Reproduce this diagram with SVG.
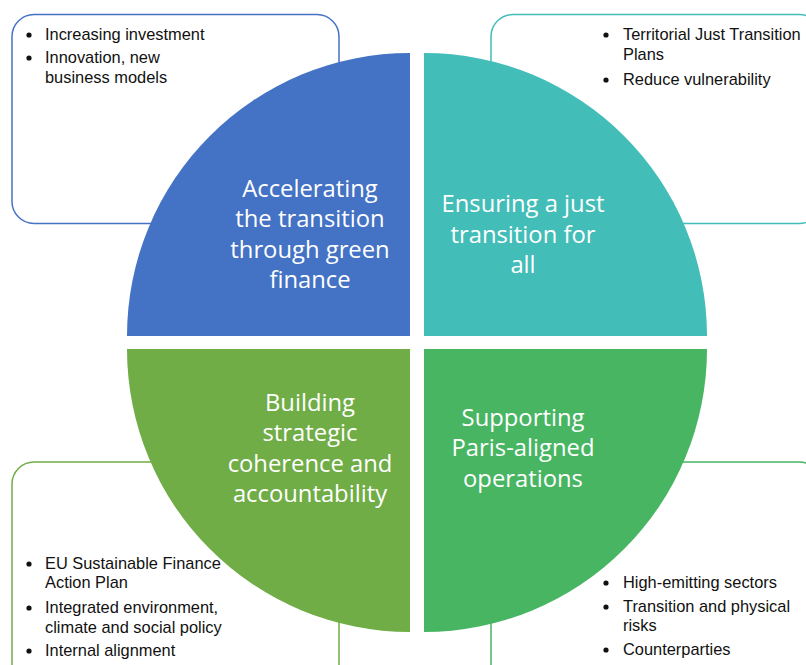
<svg xmlns="http://www.w3.org/2000/svg" width="806" height="665" viewBox="0 0 806 665">
<style>
.box{fill:#ffffff;stroke-width:1.5}
.lbl{font-family:"Open Sans","Liberation Sans",sans-serif;font-size:23.8px;fill:#ffffff;text-anchor:middle}
.bul{font-family:"Liberation Sans",Arial,sans-serif;font-size:16.4px;fill:#111111}
.dot{fill:#111111}
</style>
<defs><circle id="d" r="2.6" class="dot"/></defs>
<rect width="806" height="665" fill="#ffffff"/>
<g id="box-tl"><rect class="box" x="12" y="14.5" width="327" height="209" rx="22" stroke="#4472C4"/>
<use href="#d" x="29" y="35"/><use href="#d" x="29" y="58"/>
<text class="bul" x="45" y="40">Increasing investment</text>
<text class="bul" x="45" y="63">Innovation, new</text>
<text class="bul" x="45" y="83">business models</text></g>
<g id="box-tr"><rect class="box" x="491" y="14.5" width="330" height="209" rx="22" stroke="#43BDB8"/>
<use href="#d" x="606" y="35"/><use href="#d" x="606" y="80"/>
<text class="bul" x="623" y="40">Territorial Just Transition</text>
<text class="bul" x="623" y="60">Plans</text>
<text class="bul" x="623" y="85">Reduce vulnerability</text></g>
<g id="box-bl"><rect class="box" x="12" y="462" width="327" height="230" rx="22" stroke="#70AD47"/>
<use href="#d" x="29" y="564"/><use href="#d" x="29" y="608"/><use href="#d" x="29" y="651"/>
<text class="bul" x="45" y="569">EU Sustainable Finance</text>
<text class="bul" x="45" y="588">Action Plan</text>
<text class="bul" x="45" y="613">Integrated environment,</text>
<text class="bul" x="45" y="633">climate and social policy</text>
<text class="bul" x="45" y="656">Internal alignment</text></g>
<g id="box-br"><rect class="box" x="491" y="462" width="330" height="230" rx="22" stroke="#48B463"/>
<use href="#d" x="606" y="583"/><use href="#d" x="606" y="607"/><use href="#d" x="606" y="650"/>
<text class="bul" x="623" y="588">High-emitting sectors</text>
<text class="bul" x="623" y="612">Transition and physical</text>
<text class="bul" x="623" y="631">risks</text>
<text class="bul" x="623" y="655">Counterparties</text></g>
<g id="q-tl"><path d="M410,336 L127,336 A283,283 0 0 1 410,53 Z" fill="#4472C4"/>
<text class="lbl"><tspan x="310" y="197">Accelerating</tspan><tspan x="310" y="227">the transition</tspan><tspan x="310" y="258">through green</tspan><tspan x="310" y="288">finance</tspan></text></g>
<g id="q-tr"><path d="M424,336 L424,53 A283,283 0 0 1 707,336 Z" fill="#43BDB8"/>
<text class="lbl"><tspan x="523" y="212">Ensuring a just</tspan><tspan x="523" y="243">transition for</tspan><tspan x="523" y="273">all</tspan></text></g>
<g id="q-bl"><path d="M410,349 L410,632 A283,283 0 0 1 127,349 Z" fill="#70AD47"/>
<text class="lbl"><tspan x="310" y="411">Building</tspan><tspan x="310" y="441">strategic</tspan><tspan x="310" y="472">coherence and</tspan><tspan x="310" y="502">accountability</tspan></text></g>
<g id="q-br"><path d="M424,349 L707,349 A283,283 0 0 1 424,632 Z" fill="#48B563"/>
<text class="lbl"><tspan x="523" y="426">Supporting</tspan><tspan x="523" y="456">Paris-aligned</tspan><tspan x="523" y="487">operations</tspan></text></g>
<g id="connectors"/>
</svg>
